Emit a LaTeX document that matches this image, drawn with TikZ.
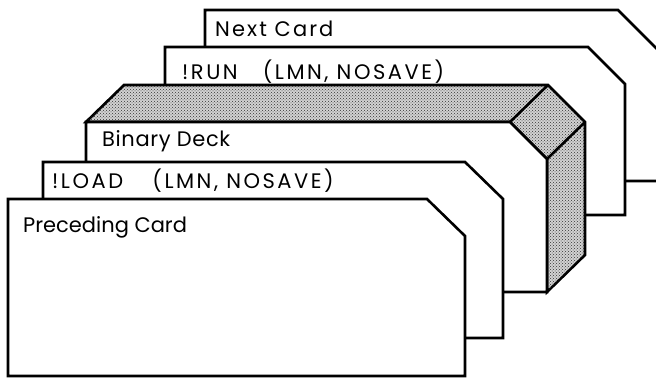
\documentclass[tikz,border=0pt]{standalone}
\usepackage{fontspec}
\setmainfont{Poppins}
\usetikzlibrary{patterns}
\begin{document}
\begin{tikzpicture}[x=1pt,y=-1pt,
  card/.style={draw=black,fill=white,line width=2.6pt,line join=miter},
  deckside/.style={draw=black,line width=2.6pt,line join=miter,fill=gray!35,
    postaction={pattern=crosshatch dots,pattern color=black!80}},
  label/.style={anchor=base west,inner sep=0pt,font=\fontsize{21}{24}\selectfont}]
\useasboundingbox (0,0) rectangle (656,379);
\clip (0,0) rectangle (656,379);
% next card (rear)
\draw[card] (205,181) -- (205,10) -- (618,10) -- (680,72) -- (680,181) -- cycle;
\node[label] (next) at (215,37) {\addfontfeature{LetterSpace=10}Next Card};
% run card
\draw[card] (165,215) -- (165,47) -- (588,47) -- (625,84) -- (625,215) -- cycle;
\node[label] (run) at (182,80) {\addfontfeature{LetterSpace=12}!RUN\hspace{1.2em}(LMN, NOSAVE)};
% binary deck: shaded top and side, then front face
\draw[deckside] (86,122) -- (124,85) -- (548,85) -- (585,122) -- (585,255)
  -- (547,292) -- (547,159) -- (510,122) -- cycle;
\draw[line width=2.6pt] (510,122) -- (548,85);
\draw[line width=2.6pt] (547,159) -- (585,122);
\draw[card] (86,292) -- (86,122) -- (510,122) -- (547,159) -- (547,292) -- cycle;
\node[label] (deck) at (102,147) {\addfontfeature{LetterSpace=3}Binary Deck};
% load card
\draw[card] (43,338) -- (43,162) -- (465,162) -- (503,199) -- (503,338) -- cycle;
\node[label] (load) at (52,189) {\addfontfeature{LetterSpace=12}!LOAD\hspace{1.4em}(LMN, NOSAVE)};
% preceding card (front)
\draw[card] (8,376) -- (8,199) -- (427,199) -- (465,236) -- (465,376) -- cycle;
\node[label] (prev) at (23,233) {Preceding Card};
\end{tikzpicture}
\end{document}
